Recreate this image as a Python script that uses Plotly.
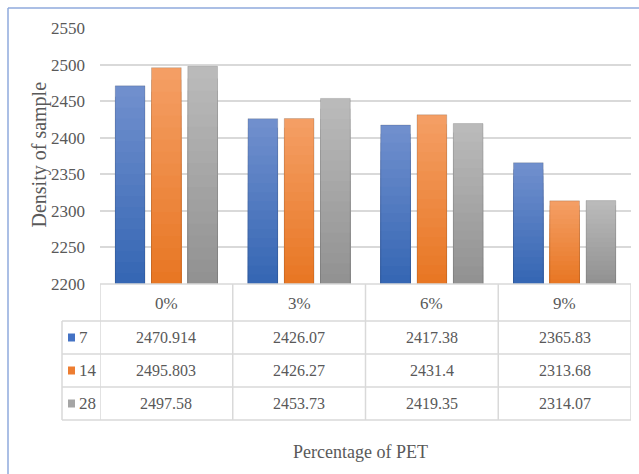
import plotly.graph_objects as go

# ---- data ----
categories = ["0%", "3%", "6%", "9%"]
series_names = ["7", "14", "28"]
density_7 = [2470.914, 2426.07, 2417.38, 2365.83]
density_14 = [2495.803, 2426.27, 2431.4, 2313.68]
density_28 = [2497.58, 2453.73, 2419.35, 2314.07]
value_labels_7 = ["2470.914", "2426.07", "2417.38", "2365.83"]
value_labels_14 = ["2495.803", "2426.27", "2431.4", "2313.68"]
value_labels_28 = ["2497.58", "2453.73", "2419.35", "2314.07"]
y_ticks = [2200, 2250, 2300, 2350, 2400, 2450, 2500, 2550]

series_values = [density_7, density_14, density_28]
series_labels = [value_labels_7, value_labels_14, value_labels_28]

# ---- styling ----
W, H = 639, 474
L, R, T, B = 100, 8, 28, 190
PW, PH = W - L - R, H - T - B
FONT = "Liberation Serif"
TXT = "#595959"
GRID = "#D9D9D9"
Y0 = y_ticks[0]

solid = ["#4472C4", "#ED7D31", "#A5A5A5"]
grad_top = [(112, 143, 205), (244, 158, 100), (186, 186, 186)]
grad_bot = [(54, 103, 180), (232, 119, 36), (146, 146, 146)]
N_LAYERS = 18


def px_x(px):
    return (px - L) / PW


def px_y(py):
    return (T + PH - py) / PH


def mix(a, b, t):
    return "rgb(%d,%d,%d)" % tuple(round(a[i] + (b[i] - a[i]) * t) for i in range(3))


def label(text, x, y, xref="paper", size=16, xanchor="center", angle=0):
    return dict(x=x, y=y, xref=xref, yref="paper", text=text, showarrow=False,
                xanchor=xanchor, yanchor="middle", textangle=angle,
                font=dict(family=FONT, size=size, color=TXT))


fig = go.Figure()

# gradient bars: stacked-down layers sharing one offset group per series
for s, (name, vals) in enumerate(zip(series_names, series_values)):
    for k in range(N_LAYERS):
        frac = 1 - k / N_LAYERS
        fig.add_trace(go.Bar(
            x=categories,
            y=[Y0 + (v - Y0) * frac for v in vals],
            offsetgroup=name,
            marker=dict(color=mix(grad_top[s], grad_bot[s], k / (N_LAYERS - 1)), line=dict(width=0)),
            showlegend=False,
            hoverinfo="skip",
        ))
    fig.add_trace(go.Bar(
        x=categories,
        y=vals,
        name=name,
        offsetgroup=name,
        marker=dict(color="rgba(0,0,0,0)", line=dict(color="rgba(0,0,0,0.18)", width=0.8)),
        showlegend=False,
    ))

shapes = []
annotations = []
line_style = dict(color=GRID, width=1.5)

# data table grid
row_lines = [284, 321, 354, 387, 420]
for i, py in enumerate(row_lines):
    x_left = 0 if i == 0 else px_x(62)
    shapes.append(dict(type="line", xref="paper", yref="paper",
                       x0=x_left, x1=1, y0=px_y(py), y1=px_y(py), line=line_style))
shapes.append(dict(type="line", xref="paper", yref="paper",
                   x0=px_x(62), x1=px_x(62), y0=px_y(321), y1=px_y(420), line=line_style))
for i in range(len(categories) + 1):
    shapes.append(dict(type="line", xref="x", yref="paper",
                       x0=i - 0.5, x1=i - 0.5, y0=0, y1=px_y(420), line=line_style))

# category header row
for c in categories:
    annotations.append(label(c, c, px_y(303), xref="x", size=17))

# value rows with legend keys
row_centers = [337.5, 370.5, 403.5]
for s, name in enumerate(series_names):
    yc = px_y(row_centers[s])
    shapes.append(dict(type="rect", xref="paper", yref="paper",
                       x0=px_x(68), x1=px_x(75), y0=px_y(row_centers[s] + 4),
                       y1=px_y(row_centers[s] - 4), fillcolor=solid[s], line=dict(width=0)))
    annotations.append(label(name, px_x(77), yc, xanchor="left", size=17))
    for c, lab in zip(categories, series_labels[s]):
        annotations.append(label(lab, c, yc, xref="x"))

# axis titles
annotations.append(label("Density of sample", px_x(39), px_y(154.5), size=20, angle=-90))
annotations.append(label("Percentage of PET", px_x(360), px_y(452), size=18))

# chart frame
frame = dict(color="#8FAADC", width=1.5)
shapes.append(dict(type="line", xref="paper", yref="paper",
                   x0=px_x(8), x1=px_x(W + 2), y0=px_y(8), y1=px_y(8), line=frame))
shapes.append(dict(type="line", xref="paper", yref="paper",
                   x0=px_x(8), x1=px_x(8), y0=px_y(8), y1=px_y(H + 2), line=frame))

fig.update_layout(
    width=W, height=H,
    margin=dict(l=L, r=R, t=T, b=B),
    paper_bgcolor="white", plot_bgcolor="white",
    barmode="group", bargap=0.18, bargroupgap=0.18,
    shapes=shapes, annotations=annotations,
    showlegend=False,
    font=dict(family=FONT, color=TXT),
    xaxis=dict(range=[-0.5, 3.5], showticklabels=False, showgrid=False,
               zeroline=False, showline=False, ticks=""),
    yaxis=dict(range=[y_ticks[0], y_ticks[-1]], tickvals=y_ticks, showgrid=True,
               gridcolor=GRID, gridwidth=1.5, zeroline=False, showline=False,
               ticks="", ticklabelstandoff=14,
               tickfont=dict(family=FONT, size=17, color=TXT)),
)

fig.write_html("out.html")
